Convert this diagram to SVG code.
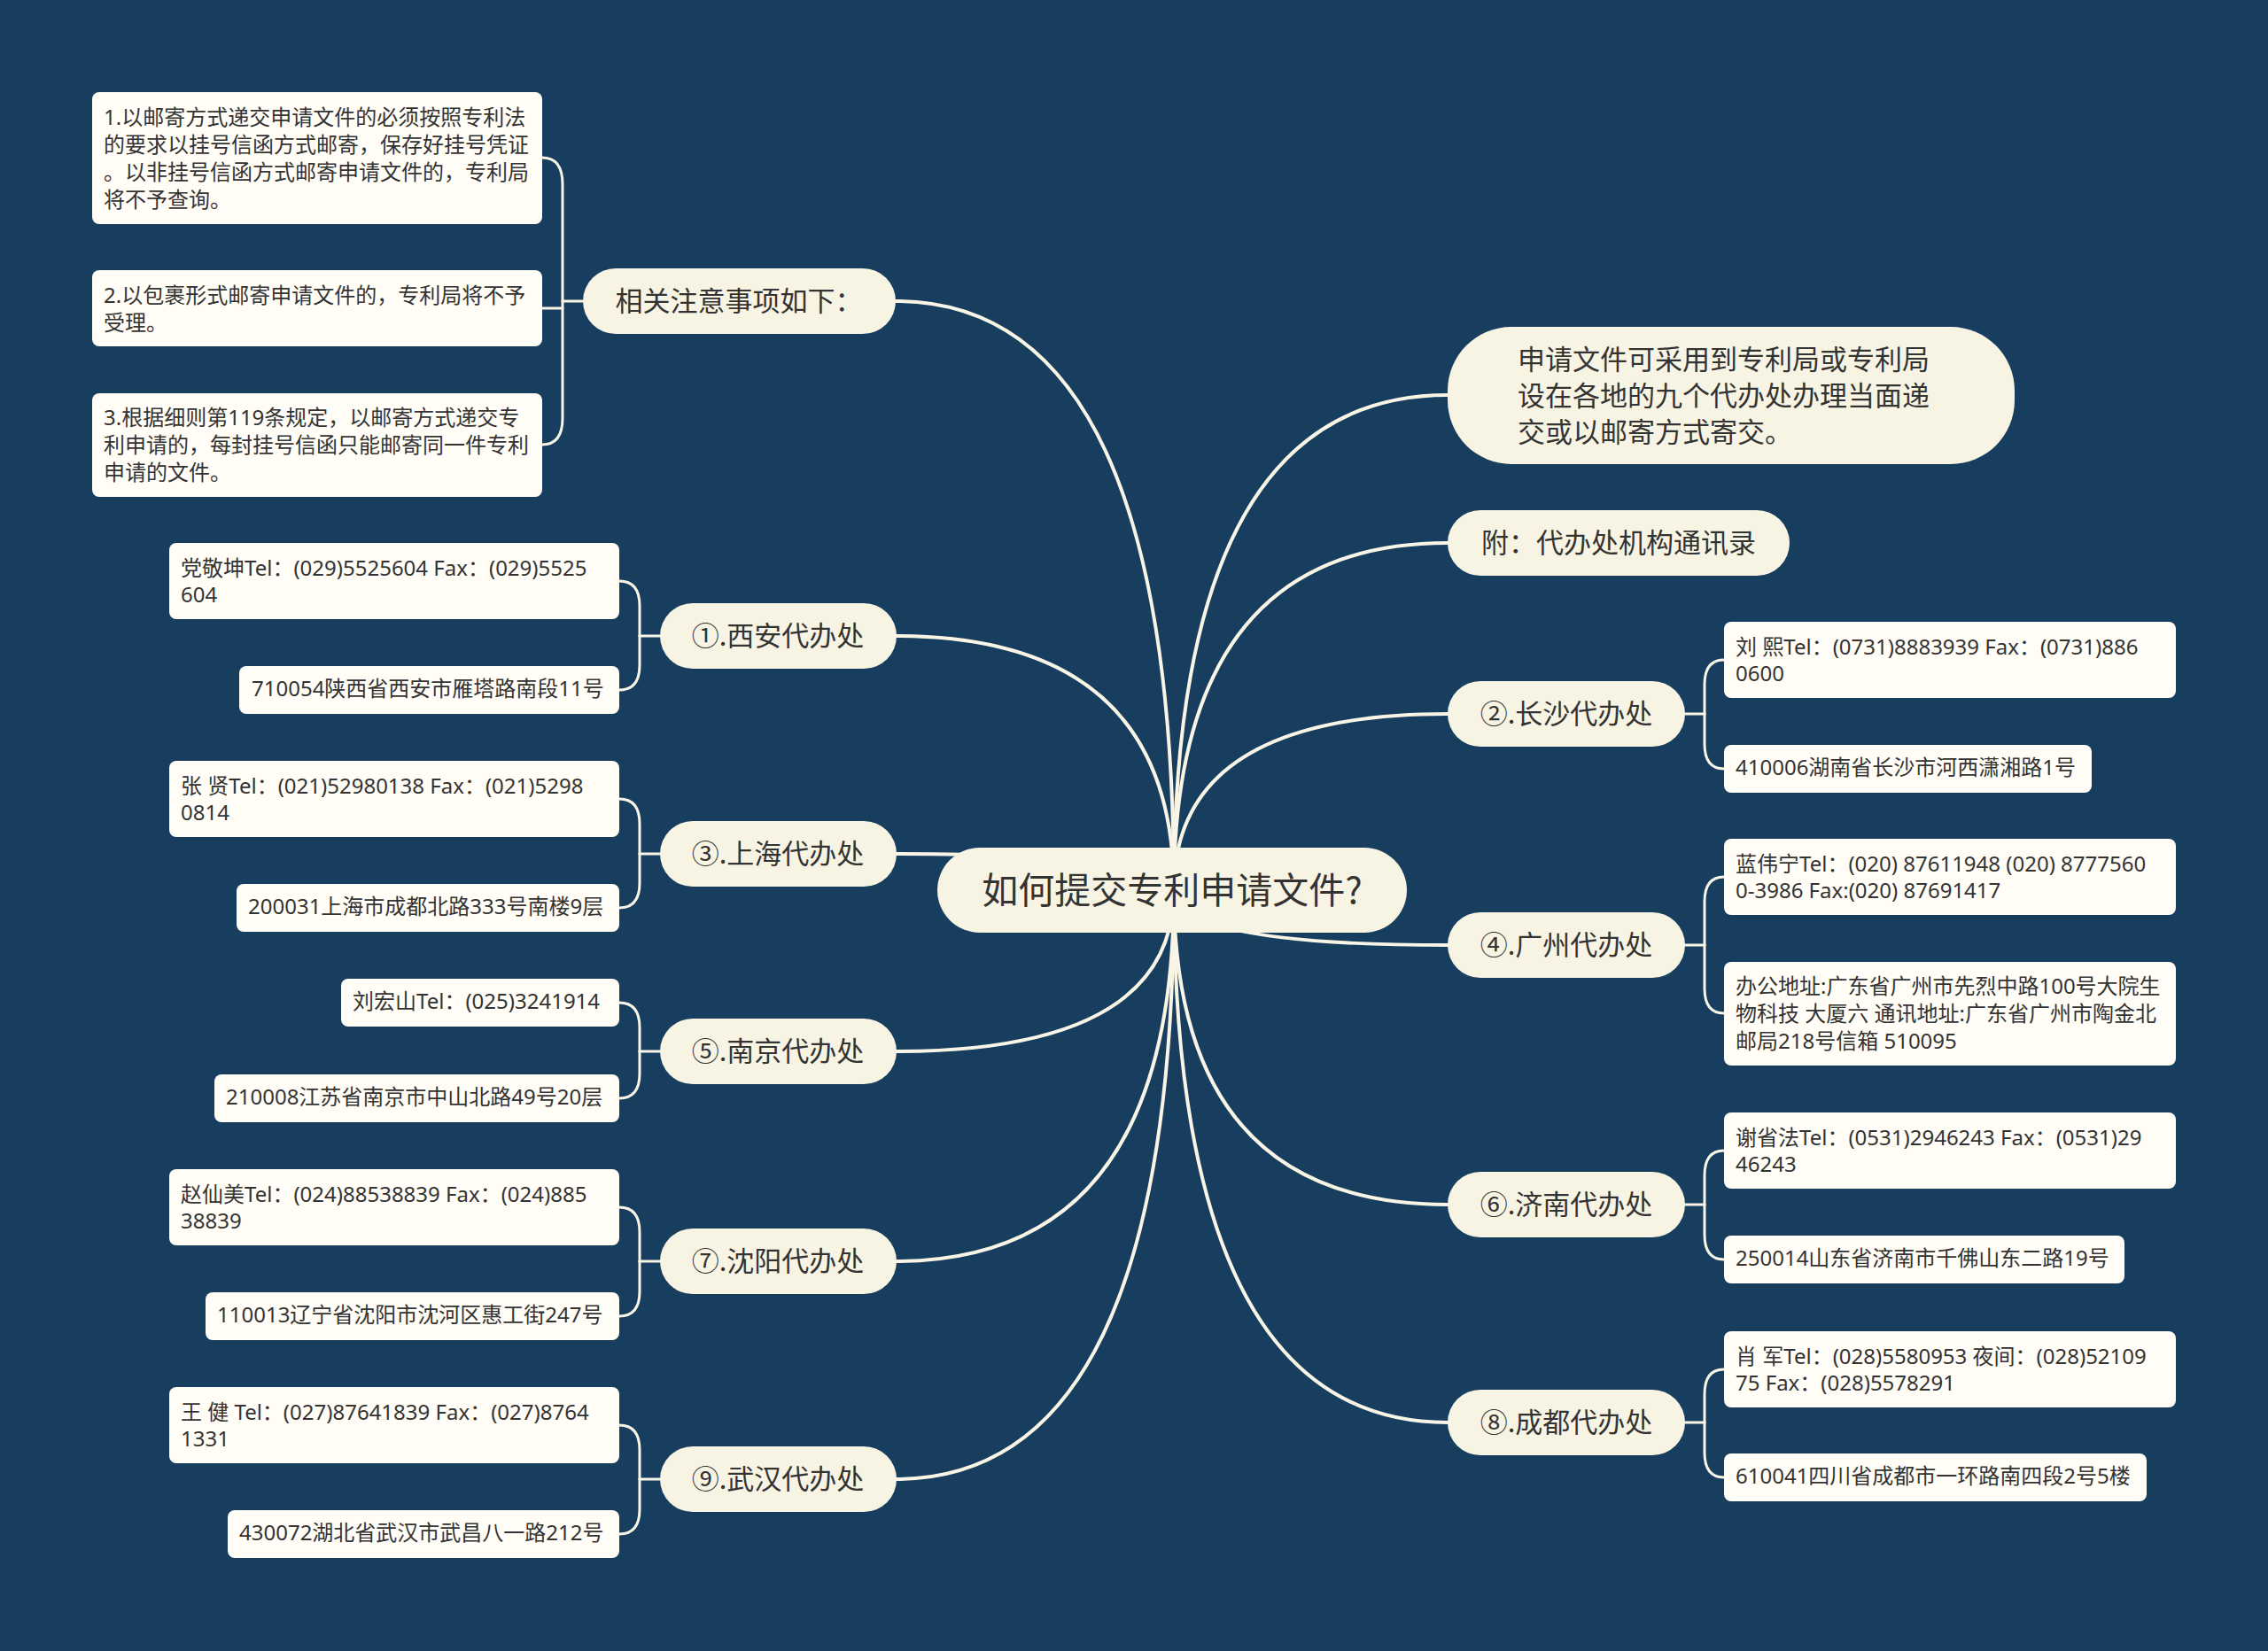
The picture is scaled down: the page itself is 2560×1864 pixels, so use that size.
<svg xmlns="http://www.w3.org/2000/svg" width="2560" height="1864" viewBox="0 0 2560 1864">
<style>
.bg{fill:#173e5f}
.conn path{fill:none;stroke:#f9f5e6;stroke-width:4;stroke-linecap:round}
.conn path.sub{stroke-width:3}
.main rect{fill:#f8f4e3}
.leaf rect{fill:#fffdf6}
text{font-family:"Noto Sans CJK SC","Microsoft YaHei",sans-serif;fill:#333333;dominant-baseline:central;transform:translate(0px,-3px)}
.main text{font-size:31px}
.leaf text{font-family:"Noto Sans","Noto Sans CJK SC",sans-serif;font-size:24px}
.root text{font-size:41px}
.c{text-anchor:middle}
</style>
<rect class="bg" x="0" y="0" width="2560" height="1864"/>

<g id="connectors" class="conn">
  <path d="M1325 1005 Q1325 340 1011 340"/>
  <path d="M1325 1005 Q1325 718 1011 718"/>
  <path d="M1325 1005 Q1325 964 1011 964"/>
  <path d="M1325 1005 Q1325 1187 1011 1187"/>
  <path d="M1325 1005 Q1325 1424 1011 1424"/>
  <path d="M1325 1005 Q1325 1670 1011 1670"/>
  <path d="M1325 1005 Q1325 446 1634 446"/>
  <path d="M1325 1005 Q1325 613 1634 613"/>
  <path d="M1325 1005 Q1325 806 1634 806"/>
  <path d="M1325 1005 Q1325 1067 1634 1067"/>
  <path d="M1325 1005 Q1325 1360 1634 1360"/>
  <path d="M1325 1005 Q1325 1606 1634 1606"/>
  <path class="sub" d="M658 340 H635"/>
  <path class="sub" d="M612 178 Q635 178 635 208 L635 340"/>
  <path class="sub" d="M612 348 H635"/>
  <path class="sub" d="M612 502 Q635 502 635 472 L635 340"/>
  <path class="sub" d="M745 718 H722"/>
  <path class="sub" d="M699 656 Q722 656 722 684 L722 718"/>
  <path class="sub" d="M699 779 Q722 779 722 751 L722 718"/>
  <path class="sub" d="M745 964 H722"/>
  <path class="sub" d="M699 902 Q722 902 722 930 L722 964"/>
  <path class="sub" d="M699 1025 Q722 1025 722 997 L722 964"/>
  <path class="sub" d="M745 1187 H722"/>
  <path class="sub" d="M699 1132 Q722 1132 722 1160 L722 1187"/>
  <path class="sub" d="M699 1240 Q722 1240 722 1212 L722 1187"/>
  <path class="sub" d="M745 1424 H722"/>
  <path class="sub" d="M699 1363 Q722 1363 722 1391 L722 1424"/>
  <path class="sub" d="M699 1486 Q722 1486 722 1458 L722 1424"/>
  <path class="sub" d="M745 1670 H722"/>
  <path class="sub" d="M699 1609 Q722 1609 722 1637 L722 1670"/>
  <path class="sub" d="M699 1732 Q722 1732 722 1704 L722 1670"/>
  <path class="sub" d="M1902 806 H1924"/>
  <path class="sub" d="M1946 745 Q1924 745 1924 773 L1924 806"/>
  <path class="sub" d="M1946 868 Q1924 868 1924 840 L1924 806"/>
  <path class="sub" d="M1902 1067 H1924"/>
  <path class="sub" d="M1946 990 Q1924 990 1924 1018 L1924 1067"/>
  <path class="sub" d="M1946 1144 Q1924 1144 1924 1116 L1924 1067"/>
  <path class="sub" d="M1902 1360 H1924"/>
  <path class="sub" d="M1946 1299 Q1924 1299 1924 1327 L1924 1360"/>
  <path class="sub" d="M1946 1422 Q1924 1422 1924 1394 L1924 1360"/>
  <path class="sub" d="M1902 1606 H1924"/>
  <path class="sub" d="M1946 1546 Q1924 1546 1924 1574 L1924 1606"/>
  <path class="sub" d="M1946 1668 Q1924 1668 1924 1640 L1924 1606"/>
</g>

<g id="root" class="main root">
  <rect x="1058" y="957" width="530" height="96" rx="48"/>
  <text class="c" x="1323" y="1005">如何提交专利申请文件?</text>
</g>

<g id="n-notes" class="main"><rect x="658" y="303" width="353" height="74" rx="37"/><text class="c" x="834" y="340">相关注意事项如下：</text></g>
<g id="n-xian" class="main"><rect x="745" y="681" width="267" height="74" rx="37"/><text class="c" x="878" y="718">①.西安代办处</text></g>
<g id="n-shanghai" class="main"><rect x="745" y="927" width="267" height="74" rx="37"/><text class="c" x="878" y="964">③.上海代办处</text></g>
<g id="n-nanjing" class="main"><rect x="745" y="1150" width="267" height="74" rx="37"/><text class="c" x="878" y="1187">⑤.南京代办处</text></g>
<g id="n-shenyang" class="main"><rect x="745" y="1387" width="267" height="74" rx="37"/><text class="c" x="878" y="1424">⑦.沈阳代办处</text></g>
<g id="n-wuhan" class="main"><rect x="745" y="1633" width="267" height="74" rx="37"/><text class="c" x="878" y="1670">⑨.武汉代办处</text></g>

<g id="n-intro" class="main"><rect x="1634" y="369" width="640" height="155" rx="72"/>
  <text x="1713" y="406">申请文件可采用到专利局或专利局</text>
  <text x="1713" y="447">设在各地的九个代办处办理当面递</text>
  <text x="1713" y="488">交或以邮寄方式寄交。</text></g>
<g id="n-appendix" class="main"><rect x="1634" y="576" width="386" height="74" rx="37"/><text class="c" x="1827" y="613">附：代办处机构通讯录</text></g>
<g id="n-changsha" class="main"><rect x="1634" y="769" width="268" height="74" rx="37"/><text class="c" x="1768" y="806">②.长沙代办处</text></g>
<g id="n-guangzhou" class="main"><rect x="1634" y="1030" width="268" height="74" rx="37"/><text class="c" x="1768" y="1067">④.广州代办处</text></g>
<g id="n-jinan" class="main"><rect x="1634" y="1323" width="268" height="74" rx="37"/><text class="c" x="1768" y="1360">⑥.济南代办处</text></g>
<g id="n-chengdu" class="main"><rect x="1634" y="1569" width="268" height="74" rx="37"/><text class="c" x="1768" y="1606">⑧.成都代办处</text></g>

<g id="l-note1" class="leaf"><rect x="104" y="104" width="508" height="149" rx="8"/>
  <text x="117" y="134">1.以邮寄方式递交申请文件的必须按照专利法</text>
  <text x="117" y="165">的要求以挂号信函方式邮寄，保存好挂号凭证</text>
  <text x="117" y="196">。以非挂号信函方式邮寄申请文件的，专利局</text>
  <text x="117" y="227">将不予查询。</text></g>
<g id="l-note2" class="leaf"><rect x="104" y="305" width="508" height="86" rx="8"/>
  <text x="117" y="335">2.以包裹形式邮寄申请文件的，专利局将不予</text>
  <text x="117" y="366">受理。</text></g>
<g id="l-note3" class="leaf"><rect x="104" y="444" width="508" height="117" rx="8"/>
  <text x="117" y="473">3.根据细则第119条规定，以邮寄方式递交专</text>
  <text x="117" y="504">利申请的，每封挂号信函只能邮寄同一件专利</text>
  <text x="117" y="535">申请的文件。</text></g>

<g id="l-xian1" class="leaf"><rect x="191" y="613" width="508" height="86" rx="8"/>
  <text x="204" y="643">党敬坤Tel：(029)5525604 Fax：(029)5525</text>
  <text x="204" y="673">604</text></g>
<g id="l-xian2" class="leaf"><rect x="270" y="752" width="429" height="54" rx="8"/>
  <text x="284" y="779">710054陕西省西安市雁塔路南段11号</text></g>
<g id="l-shanghai1" class="leaf"><rect x="191" y="859" width="508" height="86" rx="8"/>
  <text x="204" y="889">张 贤Tel：(021)52980138 Fax：(021)5298</text>
  <text x="204" y="919">0814</text></g>
<g id="l-shanghai2" class="leaf"><rect x="267" y="998" width="432" height="54" rx="8"/>
  <text x="280" y="1025">200031上海市成都北路333号南楼9层</text></g>
<g id="l-nanjing1" class="leaf"><rect x="385" y="1105" width="314" height="54" rx="8"/>
  <text x="398" y="1132">刘宏山Tel：(025)3241914</text></g>
<g id="l-nanjing2" class="leaf"><rect x="242" y="1213" width="457" height="54" rx="8"/>
  <text x="255" y="1240">210008江苏省南京市中山北路49号20层</text></g>
<g id="l-shenyang1" class="leaf"><rect x="191" y="1320" width="508" height="86" rx="8"/>
  <text x="204" y="1350">赵仙美Tel：(024)88538839 Fax：(024)885</text>
  <text x="204" y="1380">38839</text></g>
<g id="l-shenyang2" class="leaf"><rect x="232" y="1459" width="467" height="54" rx="8"/>
  <text x="245" y="1486">110013辽宁省沈阳市沈河区惠工街247号</text></g>
<g id="l-wuhan1" class="leaf"><rect x="191" y="1566" width="508" height="86" rx="8"/>
  <text x="204" y="1596">王 健 Tel：(027)87641839 Fax：(027)8764</text>
  <text x="204" y="1626">1331</text></g>
<g id="l-wuhan2" class="leaf"><rect x="257" y="1705" width="442" height="54" rx="8"/>
  <text x="270" y="1732">430072湖北省武汉市武昌八一路212号</text></g>

<g id="l-changsha1" class="leaf"><rect x="1946" y="702" width="510" height="86" rx="8"/>
  <text x="1959" y="732">刘 熙Tel：(0731)8883939 Fax：(0731)886</text>
  <text x="1959" y="762">0600</text></g>
<g id="l-changsha2" class="leaf"><rect x="1946" y="841" width="415" height="54" rx="8"/>
  <text x="1959" y="868">410006湖南省长沙市河西潇湘路1号</text></g>
<g id="l-guangzhou1" class="leaf"><rect x="1946" y="947" width="510" height="86" rx="8"/>
  <text x="1959" y="977">蓝伟宁Tel：(020) 87611948 (020) 8777560</text>
  <text x="1959" y="1007">0-3986 Fax:(020) 87691417</text></g>
<g id="l-guangzhou2" class="leaf"><rect x="1946" y="1086" width="510" height="117" rx="8"/>
  <text x="1959" y="1115">办公地址:广东省广州市先烈中路100号大院生</text>
  <text x="1959" y="1146">物科技 大厦六 通讯地址:广东省广州市陶金北</text>
  <text x="1959" y="1177">邮局218号信箱 510095</text></g>
<g id="l-jinan1" class="leaf"><rect x="1946" y="1256" width="510" height="86" rx="8"/>
  <text x="1959" y="1286">谢省法Tel：(0531)2946243 Fax：(0531)29</text>
  <text x="1959" y="1316">46243</text></g>
<g id="l-jinan2" class="leaf"><rect x="1946" y="1395" width="452" height="54" rx="8"/>
  <text x="1959" y="1422">250014山东省济南市千佛山东二路19号</text></g>
<g id="l-chengdu1" class="leaf"><rect x="1946" y="1503" width="510" height="86" rx="8"/>
  <text x="1959" y="1533">肖 军Tel：(028)5580953 夜间：(028)52109</text>
  <text x="1959" y="1563">75 Fax：(028)5578291</text></g>
<g id="l-chengdu2" class="leaf"><rect x="1946" y="1641" width="477" height="54" rx="8"/>
  <text x="1959" y="1668">610041四川省成都市一环路南四段2号5楼</text></g>
</svg>
